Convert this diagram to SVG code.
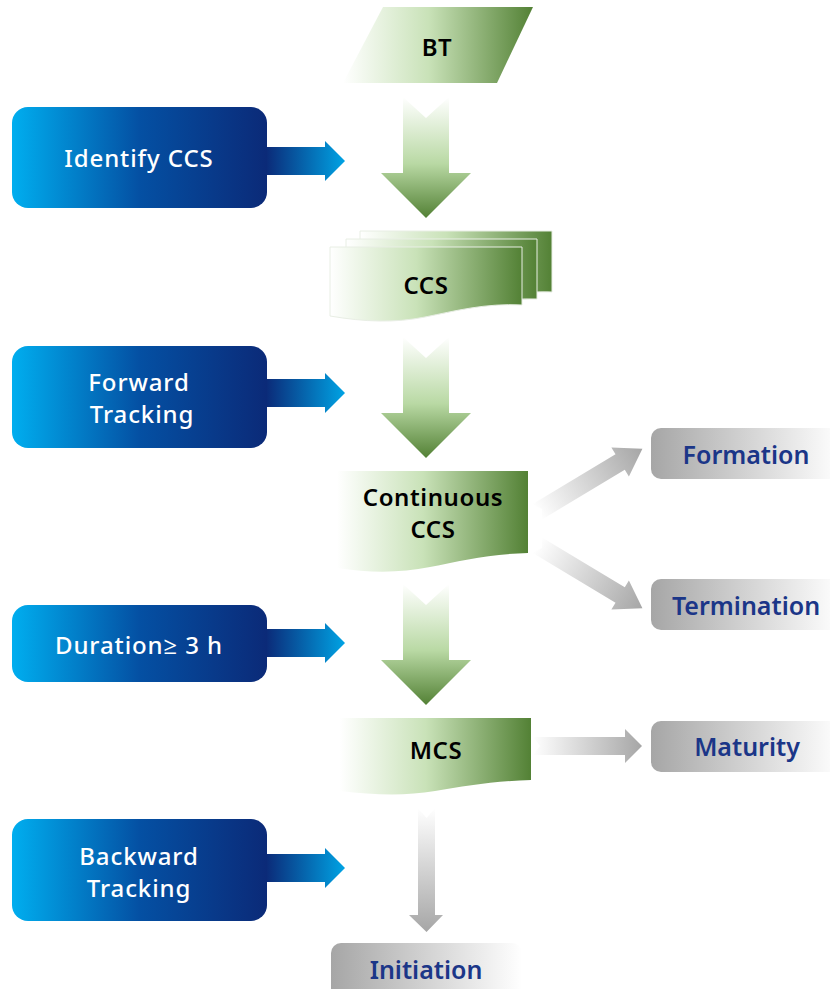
<svg xmlns="http://www.w3.org/2000/svg" width="830" height="989" viewBox="0 0 830 989">
<defs>
<linearGradient id="gDoc" x1="0" y1="0" x2="1" y2="0">
<stop offset="0" stop-color="#ffffff"/>
<stop offset="0.45" stop-color="#c9e2b8"/>
<stop offset="1" stop-color="#538135"/>
</linearGradient>
<linearGradient id="gArrow" x1="0" y1="0" x2="0" y2="1">
<stop offset="0" stop-color="#ffffff"/>
<stop offset="0.55" stop-color="#b9d9a4"/>
<stop offset="1" stop-color="#538135"/>
</linearGradient>
<linearGradient id="gBlue" x1="0" y1="0" x2="1" y2="0">
<stop offset="0" stop-color="#00aeef"/>
<stop offset="0.5" stop-color="#0450a3"/>
<stop offset="1" stop-color="#0b2a78"/>
</linearGradient>
<linearGradient id="gBlueArrow" x1="0" y1="0" x2="1" y2="0">
<stop offset="0" stop-color="#0b2a78"/>
<stop offset="1" stop-color="#00a3e4"/>
</linearGradient>
<linearGradient id="gGrayBox" x1="0" y1="0" x2="1" y2="0">
<stop offset="0" stop-color="#a6a6a6"/>
<stop offset="1" stop-color="#ffffff"/>
</linearGradient>
<linearGradient id="gGrayH" x1="0" y1="0" x2="1" y2="0">
<stop offset="0" stop-color="#ffffff"/>
<stop offset="1" stop-color="#a6a6a6"/>
</linearGradient>
<linearGradient id="gGrayV" x1="0" y1="0" x2="0" y2="1">
<stop offset="0" stop-color="#ffffff"/>
<stop offset="1" stop-color="#a6a6a6"/>
</linearGradient>
</defs>
<style>
.lbl{font-family:"Noto Sans","Open Sans","Liberation Sans",sans-serif;text-anchor:middle;dominant-baseline:central}
.blk{fill:#000000;font-size:24px;font-weight:600;letter-spacing:0.6px}
.wht{fill:#ffffff;font-size:24px;font-weight:500;letter-spacing:0.9px}
.nav{fill:#1b3688;font-size:25px;font-weight:600}
.doc{fill:url(#gDoc)}
.doc2{fill:url(#gDoc);stroke:#e8eee4;stroke-width:1}
.garrow{fill:url(#gArrow)}
.bbox{fill:url(#gBlue)}
.barrow{fill:url(#gBlueArrow)}
.gbox{fill:url(#gGrayBox)}
</style>

<g id="connectors">
<polygon class="garrow" points="403,97 426,118 449,97 449,173 471,173 426,218 381,173 403,173"/>
<polygon class="garrow" points="403,337 426,358 449,337 449,413 471,413 426,458 381,413 403,413"/>
<polygon class="garrow" points="403,584 426,605 449,584 449,660 471,660 426,705 381,660 403,660"/>
<polygon fill="url(#gGrayV)" points="418,808 426.5,818 435,808 435,915 443,915 426.5,932 409,915 418,915"/>
<polygon fill="url(#gGrayH)" points="533,737 540,746 533,755 625,755 625,763 642,746 625,729 625,737"/>
<g transform="translate(537,512) rotate(-31)">
<polygon fill="url(#gGrayH)" points="0,-9 6,0 0,9 97,9 97,17 123,0 97,-17 97,-9"/>
</g>
<g transform="translate(537,545) rotate(31)">
<polygon fill="url(#gGrayH)" points="0,-9 6,0 0,9 97,9 97,17 123,0 97,-17 97,-9"/>
</g>
<polygon class="barrow" points="266,147 325,147 325,141 345,161 325,181 325,175 266,175"/>
<polygon class="barrow" points="266,379 325,379 325,373 345,393 325,413 325,407 266,407"/>
<polygon class="barrow" points="266,629 325,629 325,623 345,643 325,663 325,657 266,657"/>
<polygon class="barrow" points="266,854 325,854 325,848 345,868 325,888 325,882 266,882"/>
</g>

<g id="bt">
<polygon class="doc" points="383,7 533,7 497,83 343,83"/>
<text class="lbl blk" x="437" y="46">BT</text>
</g>

<g id="ccs">
<path class="doc2" d="M360,231 H552 V292 C520,291 490,296 460,301 C430,306 400,306 360,300 Z"/>
<path class="doc2" d="M346,239 H537 V299 C505,298 475,304 445,309 C415,314 385,314 346,307 Z"/>
<path class="doc2" d="M330,247 H522 V305 C485,303 455,311 425,317 C395,323 365,322 330,316 Z"/>
<text class="lbl blk" x="426" y="284">CCS</text>
</g>

<g id="continuous">
<path class="doc" d="M337,471 H528 V553 C490,554 460,561 430,567 C400,573 370,573 337,568 Z"/>
<text class="lbl blk" x="433" y="496">Continuous</text>
<text class="lbl blk" x="433" y="528">CCS</text>
</g>

<g id="mcs">
<path class="doc" d="M340,718 H531 V780 C495,781 465,786 435,791 C405,796 375,795 340,791 Z"/>
<text class="lbl blk" x="436" y="749">MCS</text>
</g>

<g id="identify">
<rect class="bbox" x="12" y="107" width="255" height="101" rx="16"/>
<text class="lbl wht" x="139" y="157">Identify CCS</text>
</g>
<g id="forward">
<rect class="bbox" x="12" y="346" width="255" height="102" rx="16"/>
<text class="lbl wht" x="139" y="381">Forward</text>
<text class="lbl wht" x="142" y="413">Tracking</text>
</g>
<g id="duration">
<rect class="bbox" x="12" y="605" width="255" height="77" rx="16"/>
<text class="lbl wht" x="139" y="644">Duration≥ 3 h</text>
</g>
<g id="backward">
<rect class="bbox" x="12" y="819" width="255" height="102" rx="16"/>
<text class="lbl wht" x="139" y="855">Backward</text>
<text class="lbl wht" x="139" y="887">Tracking</text>
</g>

<g id="formation">
<rect class="gbox" x="651" y="428" width="190" height="51" rx="10"/>
<text class="lbl nav" x="746" y="454">Formation</text>
</g>
<g id="termination">
<rect class="gbox" x="651" y="579" width="190" height="51" rx="10"/>
<text class="lbl nav" x="746" y="605">Termination</text>
</g>
<g id="maturity">
<rect class="gbox" x="651" y="721" width="190" height="51" rx="10"/>
<text class="lbl nav" x="747" y="746">Maturity</text>
</g>
<g id="initiation">
<rect class="gbox" x="331" y="943" width="191" height="60" rx="10"/>
<text class="lbl nav" x="426" y="969">Initiation</text>
</g>
</svg>
